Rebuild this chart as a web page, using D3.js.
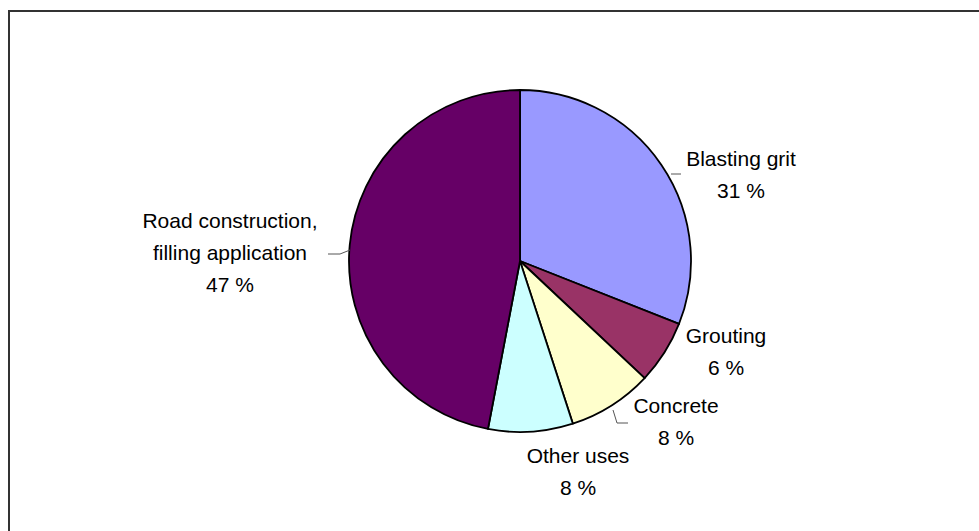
<!DOCTYPE html>
<html>
<head>
<meta charset="utf-8">
<script src="https://cdn.jsdelivr.net/npm/d3@7"></script>
<style>
  html, body { margin: 0; padding: 0; background: #fff; }
  svg { display: block; }
  text { font-family: "Liberation Sans", Arial, sans-serif; fill: #000; }
</style>
</head>
<body>
<svg id="chart" width="979" height="531"></svg>
<script>
// Uses of the material, share of total (%)
const categories = ["Blasting grit", "Grouting", "Concrete", "Other uses", "Road construction, filling application"];
const shares = [31, 6, 8, 8, 47];
const labelLines = [["Blasting grit"], ["Grouting"], ["Concrete"], ["Other uses"], ["Road construction,", "filling application"]];
const sliceColors = ["#9999FF", "#993366", "#FFFFCC", "#CCFFFF", "#660066"];

// Layout: label anchors (first baseline) and leader polylines, relative to the pie centre
const labelAnchors = [[221, -95], [206, 82], [156, 152], [58, 202], [-290, -33]];
const leaders = [
  [[151, -87], [161, -87]],
  null,
  [[93, 149], [97, 162], [108, 162]],
  null,
  [[-170, -11], [-180, -7], [-192, -7]]
];

const W = 979, H = 531;
const cx = 520, cy = 261, R = 171;
const lineH = 32, fontSize = 21;

const svg = d3.select("#chart");

// Chart area frame
svg.append("rect")
  .attr("x", 9).attr("y", 11)
  .attr("width", W + 10).attr("height", H + 10)
  .attr("fill", "none")
  .attr("stroke", "#333")
  .attr("stroke-width", 2);

const data = categories.map((c, i) => ({ name: c, value: shares[i], i }));

const pie = d3.pie().value(d => d.value).sort(null);
const arc = d3.arc().innerRadius(0).outerRadius(R);

const g = svg.append("g").attr("transform", `translate(${cx},${cy})`);

g.selectAll("path.slice")
  .data(pie(data))
  .join("path")
  .attr("class", "slice")
  .attr("d", arc)
  .attr("fill", d => sliceColors[d.data.i])
  .attr("stroke", "#000")
  .attr("stroke-width", 1.8)
  .attr("stroke-linejoin", "round");

// Leader lines
const line = d3.line();
leaders.forEach(pts => {
  if (!pts) return;
  g.append("path")
    .attr("d", line(pts))
    .attr("fill", "none")
    .attr("stroke", "#555")
    .attr("stroke-width", 1);
});

// Labels: name lines followed by the percentage
data.forEach((d, i) => {
  const [ax, ay] = labelAnchors[i];
  const lines = labelLines[i].concat([d.value + " %"]);
  const t = g.append("text")
    .attr("x", ax).attr("y", ay)
    .attr("text-anchor", "middle")
    .attr("font-size", fontSize);
  lines.forEach((s, k) => {
    t.append("tspan").attr("x", ax).attr("y", ay + k * lineH).text(s);
  });
});
</script>
</body>
</html>
